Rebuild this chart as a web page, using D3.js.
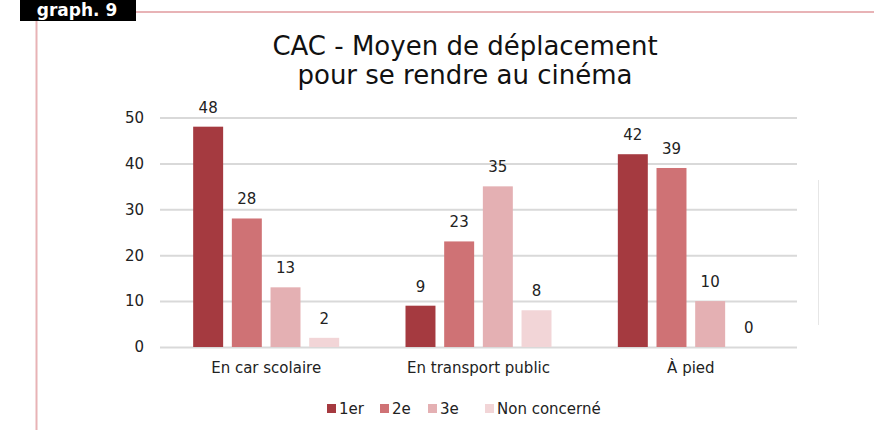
<!DOCTYPE html>
<html>
<head>
    <title>CAC - Moyen de déplacement</title>
    <style>
        body, html {
            margin: 0;
            padding: 0;
            width: 100%;
            height: 100%;
            overflow: hidden;
            background: #fff;
        }
        text {
            font-family: "DejaVu Sans", sans-serif;
        }
    </style>
    <script src="https://d3js.org/d3.v7.min.js"></script>
</head>
<body>

<svg id="chart" width="874" height="430"></svg>

<script>
const categories = ['En car scolaire', 'En transport public', 'À pied'];
const seriesNames = ['1er', '2e', '3e', 'Non concerné'];
const premier = [48, 9, 42];
const deuxieme = [28, 23, 39];
const troisieme = [13, 35, 10];
const nonConcerne = [2, 8, 0];
const yTicks = [0, 10, 20, 30, 40, 50];
const colors = ['#a53a40', '#cf7275', '#e4b0b3', '#f2d5d7'];

const series = [premier, deuxieme, troisieme, nonConcerne];

const svg = d3.select('#chart');

// decoration: label box and pink frame lines
svg.append('rect')
    .attr('x', 20).attr('y', 0)
    .attr('width', 116).attr('height', 21)
    .attr('fill', '#000');
svg.append('text')
    .attr('x', 77).attr('y', 16)
    .attr('text-anchor', 'middle')
    .attr('fill', '#fff')
    .style('font-size', '17px')
    .style('font-weight', 'bold')
    .text('graph. 9');
svg.append('line')
    .attr('x1', 136).attr('x2', 874)
    .attr('y1', 12).attr('y2', 12)
    .attr('stroke', '#e8b3b6').attr('stroke-width', 2);
svg.append('line')
    .attr('x1', 36.5).attr('x2', 36.5)
    .attr('y1', 21).attr('y2', 430)
    .attr('stroke', '#e8b3b6').attr('stroke-width', 2);
svg.append('line')
    .attr('x1', 818.5).attr('x2', 818.5)
    .attr('y1', 180).attr('y2', 325)
    .attr('stroke', '#e6e6e6').attr('stroke-width', 1);

// title
const title = svg.append('text')
    .attr('text-anchor', 'middle')
    .attr('fill', '#111')
    .style('font-size', '26px');
title.append('tspan').attr('x', 465).attr('y', 55).text('CAC - Moyen de déplacement');
title.append('tspan').attr('x', 465).attr('y', 84).text('pour se rendre au cinéma');

const margin = {left: 160, right: 797, top: 117.5, bottom: 347};
const groupWidth = 146;

const x0 = d3.scaleBand()
    .domain(categories)
    .range([margin.left, margin.right]);

const x1 = d3.scaleBand()
    .domain(seriesNames)
    .range([0, groupWidth])
    .paddingInner(0.225);

const y = d3.scaleLinear()
    .domain([0, 50])
    .range([margin.bottom, margin.top]);

// gridlines + y axis
const yAxis = d3.axisLeft(y)
    .tickValues(yTicks)
    .tickSize(-(margin.right - margin.left))
    .tickPadding(16);

const gy = svg.append('g')
    .attr('transform', `translate(${margin.left},0)`)
    .call(yAxis);
gy.select('.domain').remove();
gy.selectAll('.tick line').attr('stroke', '#d9d9d9').attr('stroke-width', 2);
gy.selectAll('.tick text')
    .attr('fill', '#222')
    .style('font-size', '15px');

// x axis labels
const xAxis = d3.axisBottom(x0).tickSize(0).tickPadding(15);
const gx = svg.append('g')
    .attr('transform', `translate(0,${margin.bottom})`)
    .call(xAxis);
gx.select('.domain').remove();
gx.selectAll('.tick text')
    .attr('fill', '#222')
    .style('font-size', '15px');

// bars
const groups = svg.append('g')
    .selectAll('g')
    .data(categories)
    .join('g')
    .attr('transform', d => `translate(${x0(d) + (x0.bandwidth() - groupWidth) / 2},0)`);

groups.each(function(cat, ci) {
    const g = d3.select(this);
    const rows = seriesNames.map((s, si) => ({s, si, v: series[si][ci]}));

    g.selectAll('rect')
        .data(rows)
        .join('rect')
        .attr('x', d => x1(d.s))
        .attr('y', d => y(d.v))
        .attr('width', x1.bandwidth())
        .attr('height', d => y(0) - y(d.v))
        .attr('fill', d => colors[d.si]);

    g.selectAll('text')
        .data(rows)
        .join('text')
        .attr('x', d => x1(d.s) + x1.bandwidth() / 2)
        .attr('y', d => y(d.v) - 14)
        .attr('text-anchor', 'middle')
        .attr('fill', '#222')
        .style('font-size', '15px')
        .text(d => d.v);
});

// legend
const legendItems = [
    {name: seriesNames[0], x: 327},
    {name: seriesNames[1], x: 380},
    {name: seriesNames[2], x: 428},
    {name: seriesNames[3], x: 485}
];
const legend = svg.append('g')
    .selectAll('g')
    .data(legendItems)
    .join('g')
    .attr('transform', d => `translate(${d.x},404)`);
legend.append('rect')
    .attr('width', 9).attr('height', 9)
    .attr('fill', (d, i) => colors[i]);
legend.append('text')
    .attr('x', 12).attr('y', 10)
    .attr('fill', '#222')
    .style('font-size', '15px')
    .text(d => d.name);
</script>

</body>
</html>
